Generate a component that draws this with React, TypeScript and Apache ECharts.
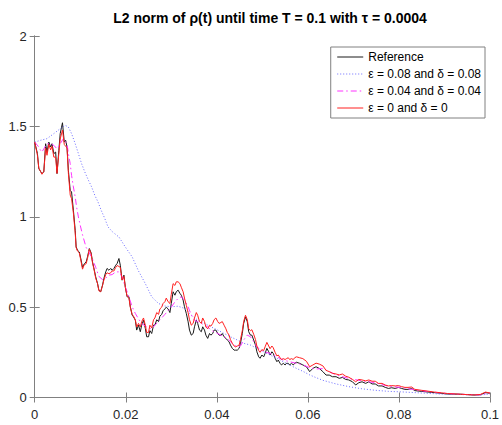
import React, { useEffect, useRef } from "react";
import * as echarts from "echarts";

const titleText = "L2 norm of ρ(t) until time T = 0.1 with τ = 0.0004";
const seriesNames = ["Reference", "ε = 0.08 and δ = 0.08", "ε = 0.04 and δ = 0.04", "ε = 0 and δ = 0"];
const seriesColors = ["#1a1a1a", "#6b6bff", "#ff33ff", "#ff2020"];

const noisyTimes = [
  0.0, 0.0006, 0.0009, 0.0013, 0.0016, 0.002, 0.0024, 0.0027, 0.0031, 0.0035,
  0.0038, 0.0042, 0.0046, 0.0049, 0.0053, 0.0056, 0.0061, 0.0065, 0.0068, 0.0071,
  0.0074, 0.0078, 0.0081, 0.0085, 0.0089, 0.0091, 0.0094, 0.0098, 0.0102, 0.0105,
  0.0109, 0.0113, 0.0116, 0.012, 0.0124, 0.0127, 0.0131, 0.0134, 0.0138, 0.0141,
  0.0145, 0.0149, 0.0152, 0.0156, 0.0159, 0.0163, 0.0167, 0.017, 0.0174, 0.0178,
  0.0181, 0.0185, 0.0188, 0.0192, 0.0196, 0.0199, 0.0203, 0.0207, 0.021, 0.0214,
  0.0217, 0.0221, 0.0224, 0.0228, 0.0232, 0.0235, 0.0239, 0.0243, 0.0246, 0.025,
  0.0253, 0.0257, 0.0261, 0.0264, 0.0268, 0.0272, 0.0275, 0.0279, 0.0282, 0.0286,
  0.0289, 0.0293, 0.0297, 0.03, 0.0304, 0.0308, 0.0311, 0.0315, 0.0319, 0.0322,
  0.0326, 0.0329, 0.0333, 0.0337, 0.034, 0.0344, 0.0348, 0.0351, 0.0355, 0.0358,
  0.0362, 0.0366, 0.0369, 0.0373, 0.0376, 0.038, 0.0384, 0.0387, 0.0391, 0.0394,
  0.0398, 0.0402, 0.0405, 0.0409, 0.0412, 0.0416, 0.042, 0.0423, 0.0427, 0.043,
  0.0434, 0.0438, 0.0441, 0.0445, 0.0449, 0.0452, 0.0456, 0.0459, 0.0463, 0.0467,
  0.047, 0.0474, 0.0477, 0.0481, 0.0485, 0.0488, 0.0492, 0.0495, 0.0499, 0.0503,
  0.0506, 0.051, 0.0514, 0.0517, 0.0521, 0.0524, 0.0528, 0.0532, 0.0535, 0.0539,
  0.0542, 0.0546, 0.055, 0.0553, 0.0557, 0.056, 0.0564, 0.0568, 0.0571, 0.0575,
  0.0582, 0.0589, 0.0597, 0.0604, 0.0611, 0.0618, 0.0625, 0.0633, 0.064, 0.0647,
  0.0654, 0.0662, 0.0669, 0.0676, 0.0683, 0.069, 0.0698, 0.0705, 0.0712, 0.0719,
  0.0727, 0.0734, 0.0741, 0.0748, 0.0755, 0.0763, 0.077, 0.0777, 0.0784, 0.0792,
  0.0799, 0.0806, 0.0813, 0.082, 0.0828, 0.0835, 0.0849, 0.0864, 0.0878, 0.0893,
  0.0907, 0.0921, 0.0936, 0.095, 0.0965, 0.0979, 0.099, 0.1,
];

const referenceValues = [
  1.413, 1.35, 1.266, 1.25, 1.239, 1.248, 1.404, 1.358, 1.413, 1.386,
  1.404, 1.349, 1.358, 1.239, 1.367, 1.46, 1.52, 1.413, 1.423, 1.386,
  1.257, 1.146, 1.137, 1.036, 0.925, 0.833, 0.815, 0.805, 0.76, 0.72,
  0.74, 0.75, 0.778, 0.824, 0.8, 0.75, 0.704, 0.667, 0.631, 0.594,
  0.585, 0.622, 0.659, 0.695, 0.714, 0.704, 0.714, 0.704, 0.714, 0.732,
  0.741, 0.769, 0.732, 0.649, 0.677, 0.612, 0.557, 0.557, 0.502, 0.456,
  0.446, 0.428, 0.373, 0.4, 0.364, 0.4, 0.428, 0.382, 0.336, 0.336,
  0.37, 0.354, 0.4, 0.4, 0.43, 0.42, 0.45, 0.46, 0.48, 0.49,
  0.5, 0.49, 0.47, 0.52, 0.585, 0.566, 0.585, 0.594, 0.576, 0.566,
  0.539, 0.502, 0.465, 0.419, 0.373, 0.345, 0.354, 0.391, 0.428, 0.41,
  0.373, 0.364, 0.391, 0.373, 0.345, 0.327, 0.354, 0.345, 0.354, 0.373,
  0.373, 0.354, 0.345, 0.345, 0.354, 0.336, 0.327, 0.318, 0.308, 0.29,
  0.272, 0.262, 0.262, 0.262, 0.272, 0.3, 0.354, 0.41, 0.446, 0.419,
  0.364, 0.345, 0.345, 0.318, 0.29, 0.253, 0.225, 0.217, 0.235, 0.225,
  0.244, 0.272, 0.253, 0.235, 0.253, 0.244, 0.217, 0.198, 0.207, 0.189,
  0.18, 0.189, 0.18, 0.189, 0.189, 0.18, 0.189, 0.18, 0.189, 0.195,
  0.189, 0.18, 0.17, 0.143, 0.161, 0.17, 0.161, 0.143, 0.124, 0.124,
  0.115, 0.115, 0.106, 0.111, 0.1, 0.097, 0.087, 0.069, 0.082, 0.087,
  0.078, 0.087, 0.075, 0.075, 0.064, 0.064, 0.056, 0.05, 0.054, 0.05,
  0.056, 0.05, 0.045, 0.045, 0.05, 0.038, 0.034, 0.03, 0.027, 0.023,
  0.019, 0.019, 0.018, 0.016, 0.014, 0.015, 0.027, 0.023,
];

const exactValues = [
  1.413, 1.34, 1.27, 1.25, 1.235, 1.25, 1.38, 1.34, 1.4, 1.37,
  1.39, 1.33, 1.33, 1.24, 1.35, 1.43, 1.48, 1.4, 1.39, 1.38,
  1.24, 1.12, 1.1, 1.02, 0.91, 0.83, 0.81, 0.8, 0.75, 0.71,
  0.735, 0.74, 0.77, 0.82, 0.795, 0.745, 0.7, 0.66, 0.63, 0.59,
  0.585, 0.62, 0.65, 0.68, 0.69, 0.685, 0.69, 0.7, 0.7, 0.72,
  0.73, 0.725, 0.72, 0.65, 0.67, 0.61, 0.56, 0.55, 0.5, 0.46,
  0.45, 0.43, 0.39, 0.41, 0.39, 0.42, 0.44, 0.4, 0.36, 0.36,
  0.4, 0.385, 0.43, 0.44, 0.47, 0.46, 0.49, 0.5, 0.52, 0.53,
  0.55, 0.53, 0.52, 0.57, 0.63, 0.62, 0.64, 0.64, 0.63, 0.61,
  0.585, 0.55, 0.51, 0.47, 0.43, 0.4, 0.41, 0.44, 0.47, 0.455,
  0.42, 0.41, 0.44, 0.42, 0.39, 0.38, 0.4, 0.395, 0.41, 0.43,
  0.44, 0.42, 0.41, 0.415, 0.42, 0.4, 0.38, 0.36, 0.345, 0.32,
  0.3, 0.285, 0.28, 0.285, 0.29, 0.32, 0.37, 0.42, 0.455, 0.43,
  0.38, 0.37, 0.375, 0.35, 0.32, 0.285, 0.26, 0.25, 0.265, 0.26,
  0.28, 0.305, 0.285, 0.27, 0.285, 0.275, 0.25, 0.23, 0.235, 0.22,
  0.21, 0.215, 0.21, 0.215, 0.22, 0.21, 0.215, 0.21, 0.22, 0.225,
  0.22, 0.215, 0.2, 0.17, 0.18, 0.19, 0.185, 0.175, 0.15, 0.143,
  0.134, 0.13, 0.125, 0.13, 0.118, 0.112, 0.1, 0.087, 0.1, 0.097,
  0.092, 0.097, 0.09, 0.09, 0.078, 0.078, 0.069, 0.064, 0.066, 0.064,
  0.066, 0.06, 0.056, 0.056, 0.058, 0.045, 0.04, 0.035, 0.03, 0.026,
  0.022, 0.02, 0.018, 0.016, 0.014, 0.017, 0.03, 0.025,
];

const coarseTimes = [
  0.0, 0.0013, 0.0027, 0.0042, 0.0056, 0.0067, 0.0074, 0.0081, 0.0089, 0.0096,
  0.0103, 0.011, 0.0118, 0.0125, 0.0132, 0.0139, 0.0146, 0.0154, 0.0161, 0.0171,
  0.0185, 0.0199, 0.0214, 0.0228, 0.0243, 0.0257, 0.0272, 0.0286, 0.03, 0.0315,
  0.0329, 0.0344, 0.0358, 0.0373, 0.0387, 0.0402, 0.0416, 0.043, 0.0445, 0.0459,
  0.0474, 0.0488, 0.0503, 0.0517, 0.0532, 0.0546, 0.056, 0.0575, 0.0589, 0.0604,
  0.0618, 0.0633, 0.0662, 0.069, 0.0719, 0.0748, 0.0777, 0.0806, 0.0835, 0.0864,
  0.0893, 0.0921, 0.095, 0.0979, 0.1,
];

const coarseValues = [
  1.413, 1.423, 1.432, 1.46, 1.487, 1.506, 1.496, 1.46, 1.404, 1.349,
  1.294, 1.248, 1.202, 1.165, 1.119, 1.082, 1.036, 0.99, 0.944, 0.916,
  0.888, 0.833, 0.778, 0.7, 0.63, 0.557, 0.52, 0.506, 0.502, 0.505,
  0.493, 0.456, 0.428, 0.41, 0.391, 0.373, 0.354, 0.336, 0.318, 0.3,
  0.29, 0.272, 0.253, 0.235, 0.217, 0.198, 0.18, 0.161, 0.145, 0.125,
  0.11, 0.095, 0.075, 0.06, 0.048, 0.04, 0.034, 0.031, 0.027, 0.023,
  0.019, 0.018, 0.015, 0.014, 0.019,
];

const mediumTimes = [
  0.0, 0.0009, 0.0013, 0.0016, 0.002, 0.0027, 0.0035, 0.0042, 0.0049, 0.0056,
  0.0063, 0.0071, 0.0074, 0.0078, 0.0081, 0.0085, 0.0089, 0.0092, 0.0096, 0.01,
  0.0105, 0.0113, 0.012, 0.0127, 0.0134, 0.0141, 0.0149, 0.0156, 0.0163, 0.017,
  0.0178, 0.0185, 0.0192, 0.0199, 0.0207, 0.0214, 0.0221, 0.0228, 0.0235, 0.0243,
  0.025, 0.0257, 0.0264, 0.0272, 0.0279, 0.0286, 0.0293, 0.03, 0.0308, 0.0315,
  0.0322, 0.0329, 0.0337, 0.0344, 0.0351, 0.0358, 0.0366, 0.0373, 0.038, 0.0387,
  0.0394, 0.0402, 0.0409, 0.0416, 0.0423, 0.043, 0.0438, 0.0445, 0.0452, 0.0459,
  0.0467, 0.0474, 0.0481, 0.0488, 0.0503, 0.0517, 0.0532, 0.0546, 0.056, 0.0575,
  0.0589, 0.0604, 0.0618, 0.0633, 0.0662, 0.069, 0.0719, 0.0748, 0.0777, 0.0806,
  0.0835, 0.0864, 0.0893, 0.0921, 0.095, 0.0979, 0.1,
];

const mediumValues = [
  1.413, 1.386, 1.367, 1.358, 1.376, 1.404, 1.404, 1.395, 1.376, 1.404,
  1.432, 1.404, 1.349, 1.294, 1.229, 1.165, 1.109, 1.054, 0.999, 0.953,
  0.9, 0.83, 0.8, 0.765, 0.72, 0.67, 0.652, 0.66, 0.677, 0.68,
  0.695, 0.695, 0.667, 0.612, 0.557, 0.502, 0.465, 0.435, 0.41, 0.395,
  0.385, 0.38, 0.4, 0.42, 0.44, 0.46, 0.48, 0.5, 0.529, 0.548,
  0.557, 0.539, 0.502, 0.456, 0.428, 0.419, 0.41, 0.4, 0.391, 0.373,
  0.364, 0.354, 0.345, 0.336, 0.327, 0.308, 0.29, 0.28, 0.285, 0.318,
  0.345, 0.336, 0.308, 0.28, 0.253, 0.244, 0.225, 0.207, 0.198, 0.189,
  0.18, 0.165, 0.158, 0.16, 0.125, 0.105, 0.092, 0.082, 0.062, 0.055,
  0.042, 0.033, 0.025, 0.02, 0.016, 0.015, 0.025,
];

const FONT = "'Liberation Sans', Arial, sans-serif";

function pairs(times: number[], values: number[]) {
  return times.map((t, i) => [t, values[i]]);
}

export default function App() {
  const ref = useRef<HTMLDivElement>(null);

  useEffect(() => {
    if (!ref.current) return;
    const chart = echarts.init(ref.current, undefined, { renderer: "svg" });
    const axisLine = { show: true, lineStyle: { color: "#808080", width: 1 } };
    const axisTick = { show: true, inside: true, length: 5, lineStyle: { color: "#808080" } };
    const axisLabel = { color: "#262626", fontSize: 13, fontFamily: FONT };
    const lineSeries = (name: string, data: number[][], color: string, type: any, width: number, z: number) => ({
      name,
      type: "line",
      data,
      showSymbol: false,
      symbol: "none",
      xAxisIndex: 0,
      yAxisIndex: 0,
      z,
      lineStyle: { color, width, type },
      itemStyle: { color },
    });

    chart.setOption({
      animation: false,
      backgroundColor: "#ffffff",
      title: {
        text: titleText,
        left: 265,
        top: 6,
        textAlign: "center",
        textStyle: { fontSize: 14, fontWeight: "bold", color: "#000", fontFamily: FONT },
      },
      grid: { left: 34.7, right: 6, top: 36, bottom: 27.5, containLabel: false },
      legend: {
        orient: "vertical",
        right: 17,
        top: 47,
        backgroundColor: "#ffffff",
        borderColor: "#808080",
        borderWidth: 1,
        borderRadius: 0,
        padding: [4, 4, 4, 6],
        itemWidth: 26,
        itemHeight: 12,
        itemGap: 5,
        itemStyle: { opacity: 0 },
        lineStyle: { width: 1 },
        textStyle: { fontSize: 12, color: "#000", fontFamily: FONT, padding: [0, 0, 0, 0] },
        data: seriesNames,
      },
      xAxis: [
        {
          type: "value",
          min: 0,
          max: 0.1,
          interval: 0.02,
          position: "bottom",
          axisLine,
          axisTick,
          splitLine: { show: false },
          axisLabel: {
            ...axisLabel,
            margin: 10,
            formatter: (v: number) => String(Number(v.toFixed(4))),
          },
        },
        {
          type: "value",
          min: 0,
          max: 0.1,
          interval: 0.02,
          position: "top",
          axisLine,
          axisTick,
          splitLine: { show: false },
          axisLabel: { show: false },
        },
      ],
      yAxis: [
        {
          type: "value",
          min: 0,
          max: 2,
          interval: 0.5,
          position: "left",
          axisLine,
          axisTick,
          splitLine: { show: false },
          axisLabel: {
            ...axisLabel,
            margin: 8,
            formatter: (v: number) => String(Number(v.toFixed(2))),
          },
        },
        {
          type: "value",
          min: 0,
          max: 2,
          interval: 0.5,
          position: "right",
          axisLine,
          axisTick,
          splitLine: { show: false },
          axisLabel: { show: false },
        },
      ],
      series: [
        lineSeries(seriesNames[0], pairs(noisyTimes, referenceValues), seriesColors[0], "solid", 1, 2),
        lineSeries(seriesNames[1], pairs(coarseTimes, coarseValues), seriesColors[1], [1, 2], 1, 3),
        lineSeries(seriesNames[2], pairs(mediumTimes, mediumValues), seriesColors[2], [6, 3, 1.5, 3], 1, 4),
        lineSeries(seriesNames[3], pairs(noisyTimes, exactValues), seriesColors[3], "solid", 1, 5),
      ],
    });
    return () => chart.dispose();
  }, []);

  return (
    <div
      ref={ref}
      style={{ position: "fixed", left: 0, top: 0, width: 502, height: 425, background: "#fff" }}
    />
  );
}
